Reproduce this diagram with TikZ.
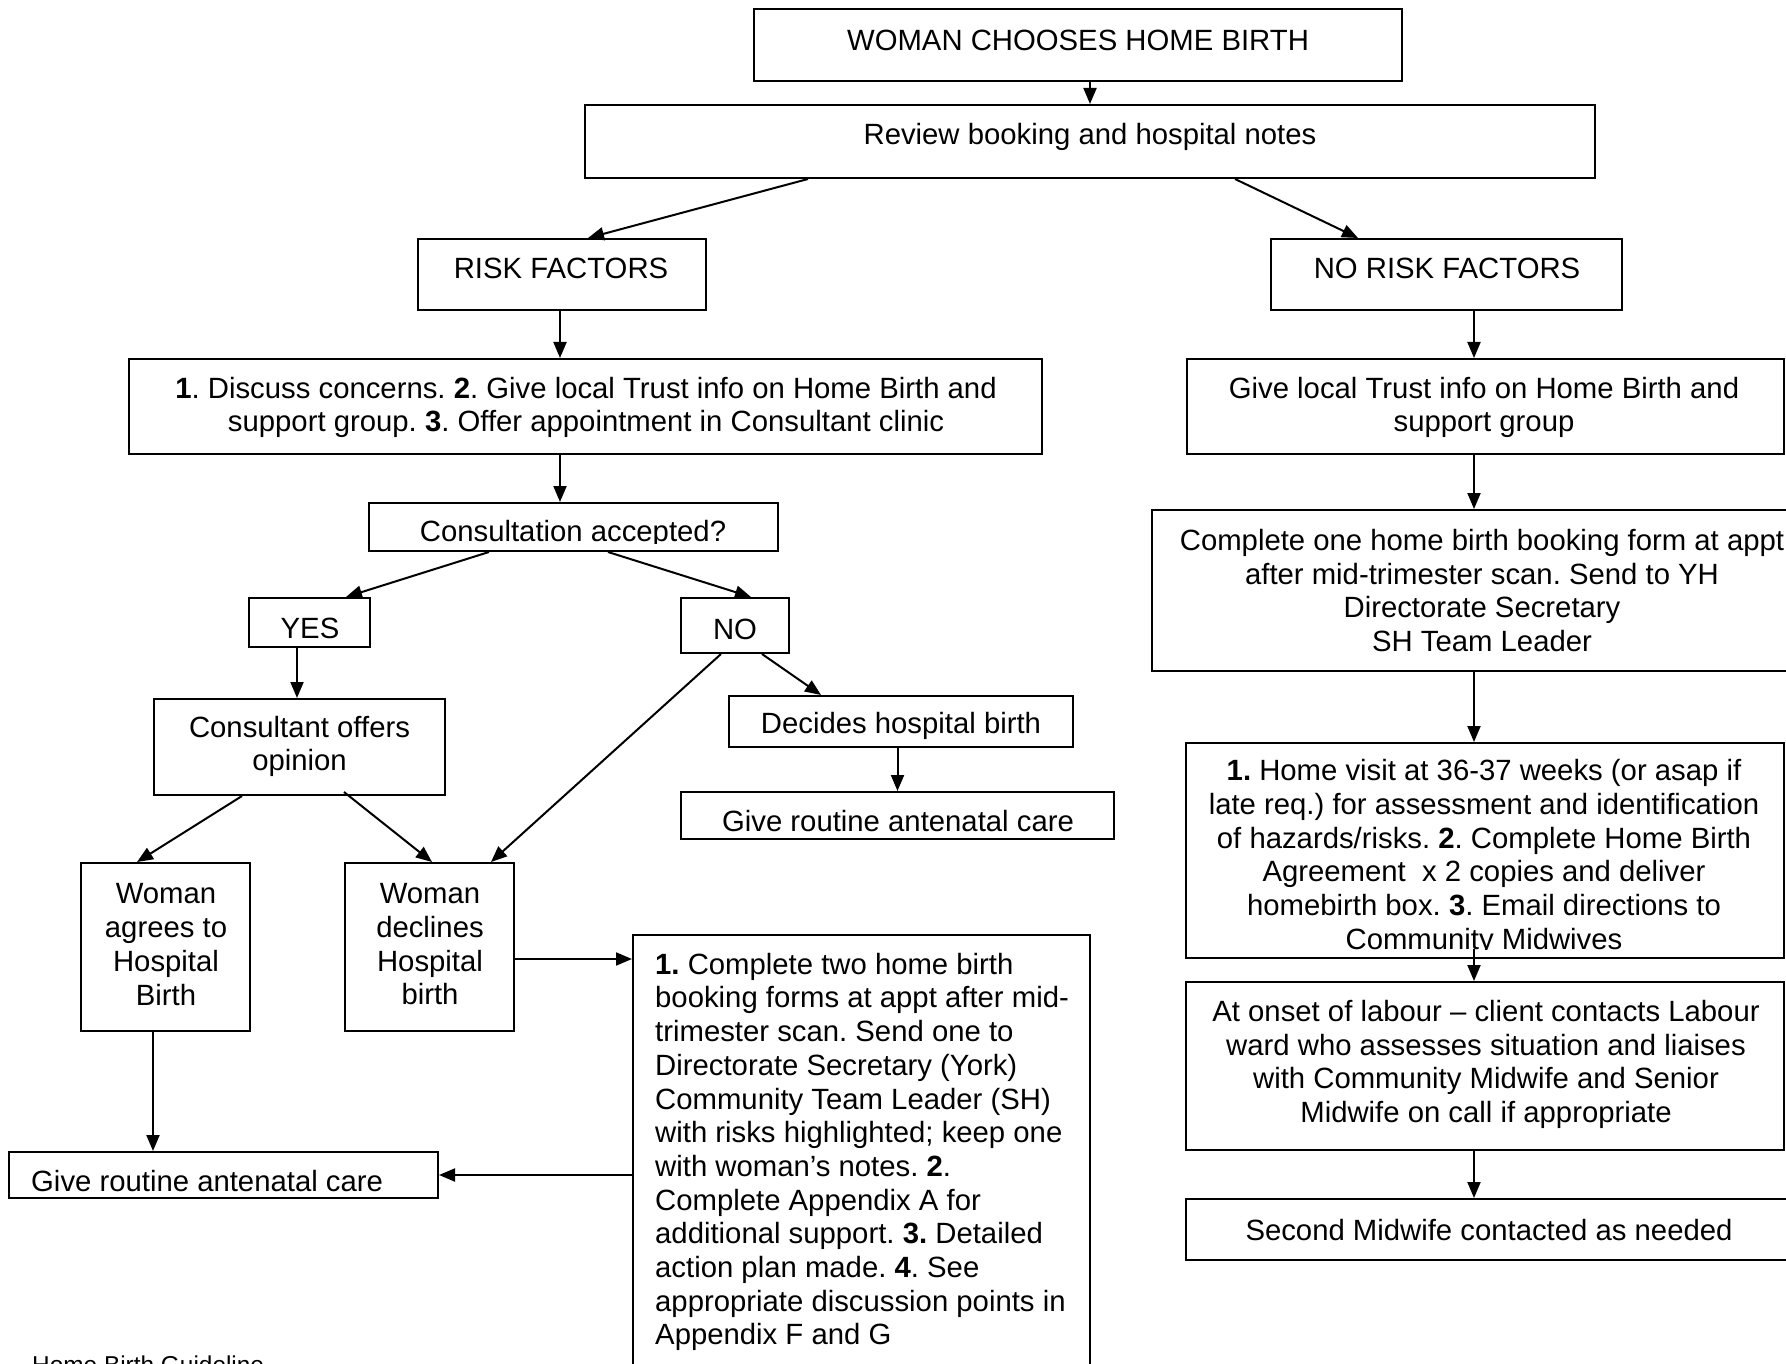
\documentclass[tikz,border=0pt]{standalone}
\usepackage{fontspec}
\setmainfont{Liberation Sans}
\usetikzlibrary{arrows.meta}
\frenchspacing
\begin{document}
\begin{tikzpicture}[x=1pt,y=-1pt,
  box/.style={draw, line width=2pt, rectangle, inner sep=0pt},
  txt/.style={inner sep=0pt, align=center, font=\fontsize{29.3pt}{33.7pt}\selectfont\frenchspacing},
  ltxt/.style={inner sep=0pt, align=left, anchor=west, font=\fontsize{29.3pt}{33.7pt}\selectfont\frenchspacing},
  arr/.style={line width=2pt, -{Triangle[length=16pt,width=13pt]}},
  ln/.style={line width=2pt}]
\useasboundingbox (0,0) rectangle (1786,1364);

% ---------- boxes ----------
\node[box, minimum width=648pt, minimum height=72pt] (A) at (1078,45) {};
\node[box, minimum width=1010pt, minimum height=73pt] (B) at (1090,141.5) {};
\node[box, minimum width=288pt, minimum height=71pt] (Risk) at (562,274.5) {};
\node[box, minimum width=351pt, minimum height=71pt] (NoRisk) at (1446.5,274.5) {};
\node[box, minimum width=913pt, minimum height=95pt] (Discuss) at (585.5,406.5) {};
\node[box, minimum width=597pt, minimum height=95pt] (Trust) at (1485.5,406.5) {};
\node[box, minimum width=409pt, minimum height=48pt] (Consult) at (573.5,527) {};
\node[box, minimum width=121pt, minimum height=49pt] (Yes) at (309.5,622.5) {};
\node[box, minimum width=108pt, minimum height=55pt] (No) at (735,625.5) {};
\node[box, minimum width=291pt, minimum height=96pt] (Opinion) at (299.5,747) {};
\node[box, minimum width=344pt, minimum height=51pt] (Decides) at (901,721.5) {};
\node[box, minimum width=433pt, minimum height=47pt] (CareR) at (897.5,815.5) {};
\node[box, minimum width=169pt, minimum height=168pt] (Agrees) at (165.5,947) {};
\node[box, minimum width=169pt, minimum height=168pt] (Declines) at (429.5,947) {};
\node[box, minimum width=457pt, minimum height=465pt] (Big) at (861.5,1167.5) {};
\node[box, minimum width=429pt, minimum height=46pt] (CareL) at (223.5,1175) {};
\node[box, minimum width=660pt, minimum height=161pt] (Complete) at (1482,590.5) {};
\node[box, minimum width=598pt, minimum height=215pt] (Visit) at (1485,850.5) {};
\node[box, minimum width=598pt, minimum height=168pt] (Onset) at (1485,1066) {};
\node[box, minimum width=606pt, minimum height=61pt] (Second) at (1489,1229.5) {};

% ---------- texts ----------
\node[txt] (A-t) at (1078,40.5) {WOMAN CHOOSES HOME BIRTH};
\node[txt] (B-t) at (1090,136.5) {Review booking and hospital notes};
\node[txt] (Risk-t) at (561,268.5) {RISK FACTORS};
\node[txt] (NoRisk-t) at (1447,268.5) {NO RISK FACTORS};
\node[txt] (Discuss-t) at (586,407.5) {\textbf{1}. Discuss concerns. \textbf{2}. Give local Trust info on Home Birth and\\support group. \textbf{3}. Offer appointment in Consultant clinic};
\node[txt] (Trust-t) at (1484,407.5) {Give local Trust info on Home Birth and\\support group};
\begin{scope}
  \clip (Consult.north west) rectangle ([yshift=9pt]Consult.south east);
  \node[txt] (Consult-t) at (573,534) {Consultation accepted?};
\end{scope}
\node[txt] (Yes-t) at (310,628.5) {YES};
\node[txt] (No-t) at (735,629.5) {NO};
\node[txt] (Opinion-t) at (299.5,746.5) {Consultant offers\\opinion};
\node[txt] (Decides-t) at (901,725.5) {Decides hospital birth};
\node[txt] (CareR-t) at (898,821.5) {Give routine antenatal care};
\node[txt] (Agrees-t) at (166,944.5) {Woman\\agrees to\\Hospital\\Birth};
\node[txt] (Declines-t) at (430,944.5) {Woman\\declines\\Hospital\\birth};
\node[ltxt] (Big-t) at (655,1152) {\textbf{1.} Complete two home birth\\booking forms at appt after mid-\\trimester scan. Send one to\\Directorate Secretary (York)\\Community Team Leader (SH)\\with risks highlighted; keep one\\with woman’s notes. \textbf{2}.\\Complete Appendix A for\\additional support. \textbf{3.} Detailed\\action plan made. \textbf{4}. See\\appropriate discussion points in\\Appendix F and G};
\node[ltxt] (CareL-t) at (31,1181.5) {Give routine antenatal care};
\node[txt] (Complete-t) at (1482,590.5) {Complete one home birth booking form at appt\\after mid-trimester scan. Send to YH\\Directorate Secretary\\SH Team Leader};
\begin{scope}
  \clip (Visit.north west) rectangle ([yshift=10pt]Visit.south east);
  \node[txt] (Visit-t) at (1484,857.5) {\textbf{1.} Home visit at 36-37 weeks (or asap if\\late req.) for assessment and identification\\of hazards/risks. \textbf{2}. Complete Home Birth\\Agreement\ \ x 2 copies and deliver\\homebirth box. \textbf{3}. Email directions to\\Community Midwives};
\end{scope}
\node[txt] (Onset-t) at (1486,1064.5) {At onset of labour – client contacts Labour\\ward who assesses situation and liaises\\with Community Midwife and Senior\\Midwife on call if appropriate};
\node[txt] (Second-t) at (1489,1230.5) {Second Midwife contacted as needed};
\node[inner sep=0pt, anchor=base west, font=\fontsize{24.4pt}{28pt}\selectfont] (Footer) at (32,1373) {Home Birth Guideline};

% ---------- connectors ----------
\draw[arr] (A.south -| B.north) -- (B.north);
\draw[arr] ([xshift=224pt]B.south west) -- ([xshift=171pt]Risk.north west);
\draw[arr] ([xshift=651pt]B.south west) -- ([xshift=88pt]NoRisk.north west);
\draw[arr] ([xshift=-2pt]Risk.south) -- ([xshift=-2pt]Risk.south |- Discuss.north);
\draw[arr] ([xshift=27.5pt]NoRisk.south) -- ([xshift=27.5pt]NoRisk.south |- Trust.north);
\draw[arr] ([xshift=-25.5pt]Discuss.south) -- ([xshift=-25.5pt]Discuss.south |- Consult.north);
\draw[arr] ([xshift=121pt]Consult.south west) -- ([xshift=98pt]Yes.north west);
\draw[arr] ([xshift=240pt]Consult.south west) -- ([xshift=71pt]No.north west);
\draw[arr] ([xshift=-12.5pt]Yes.south) -- ([xshift=-12.5pt]Yes.south |- Opinion.north);
\draw[arr] ([xshift=41pt]No.south west) -- ([xshift=147pt]Declines.north west);
\draw[arr] ([xshift=82pt]No.south west) -- ([xshift=93pt]Decides.north west);
\draw[arr] (Decides.south -| CareR.north) -- (CareR.north);
\draw[arr] ([xshift=89pt]Opinion.south west) -- ([xshift=57pt]Agrees.north west);
\draw[arr] ([xshift=191pt,yshift=4pt]Opinion.south west) -- ([xshift=88pt]Declines.north west);
\draw[arr] ([yshift=-12pt]Declines.east) -- ([yshift=-12pt]Declines.east -| Big.west);
\draw[arr] ([xshift=-12.5pt]Agrees.south) -- ([xshift=-12.5pt]Agrees.south |- CareL.north);
\draw[arr] (Big.west |- CareL.east) -- (CareL.east);
\draw[arr] ([xshift=-11.5pt]Trust.south) -- ([xshift=-11.5pt]Trust.south |- Complete.north);
\draw[arr] ([xshift=-8pt]Complete.south) -- ([xshift=-8pt]Complete.south |- Visit.north);
\draw[arr] ([xshift=-11pt,yshift=10pt]Visit.south) -- ([xshift=-11pt]Visit.south |- Onset.north);
\draw[arr] ([xshift=-11pt]Onset.south) -- ([xshift=-11pt]Onset.south |- Second.north);
\end{tikzpicture}
\end{document}
